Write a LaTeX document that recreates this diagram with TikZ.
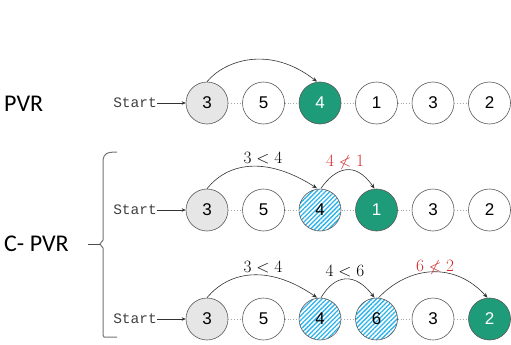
\documentclass[tikz,border=0pt]{standalone}
\usepackage{fontspec}
\usepackage{amssymb}
\usetikzlibrary{arrows.meta,patterns.meta}
\newfontfamily\numfont{Liberation Sans}
\newfontfamily\startfont{Liberation Mono}
\newfontfamily\labfont{Carlito}
\definecolor{pgreen}{HTML}{1E9B78}
\definecolor{pgray}{HTML}{E6E6E6}
\definecolor{phatch}{HTML}{2DB3EC}
\definecolor{pred}{HTML}{D42A2A}
\tikzset{
  cell/.style={circle,draw=black!65,line width=0.6pt,minimum size=42pt,inner sep=0pt,font=\numfont\fontsize{17}{17}\selectfont},
  firstcell/.style={cell,fill=pgray},
  hitcell/.style={cell,fill=pgreen,text=white},
  visited/.style={cell,preaction={fill=white},pattern={Lines[angle=45,distance=3.2pt,line width=1.3pt]},pattern color=phatch},
  link/.style={draw=black!35,dotted,line width=0.8pt},
  jump/.style={draw=black!80,line width=0.6pt,-{Stealth[length=5pt,width=4pt]}},
  startlbl/.style={font=\startfont\fontsize{14.5}{14.5}\selectfont,text=black!75,inner sep=0pt,anchor=east},
  cmp/.style={font=\fontsize{16}{16}\selectfont,inner sep=0pt},
  bigl/.style={font=\labfont\fontsize{24}{24}\selectfont,inner sep=0pt,anchor=west}
}
\begin{document}
\begin{tikzpicture}[x=1pt,y=-1pt]
\useasboundingbox (0,0) rectangle (511,345);
% row labels
\node[bigl] (pvr) at (4,104) {PVR};
\node[bigl] (cpvr) at (4,244) {C- PVR};
% bracket
\draw[black!55,line width=1pt] (117,152) .. controls (106,152) and (104,154) .. (103,160) -- (103,240) -- (100,244) -- (103,248) -- (103,335) -- (104,337) -- (117,337);
\coordinate (bt) at (100,244);
\coordinate (bl) at (88,244);
\draw[black!70,line width=1pt] (bl) -- (bt);
% Row 1
\foreach \i/\x in {1/207,2/263.5,3/320,4/376.5,5/433,6/489.5}{\coordinate (p\i) at (\x,103);}
\node[firstcell] (a1) at (p1) {3};
\node[cell] (a2) at (p2) {5};
\node[hitcell] (a3) at (p3) {4};
\node[cell] (a4) at (p4) {1};
\node[cell] (a5) at (p5) {3};
\node[cell] (a6) at (p6) {2};
\node[startlbl] (s1) at (157,103) {Start};
% Row 2
\foreach \i/\x in {1/207,2/263.5,3/320,4/376.5,5/433,6/489.5}{\coordinate (q\i) at (\x,210);}
\node[firstcell] (b1) at (q1) {3};
\node[cell] (b2) at (q2) {5};
\node[visited] (b3) at (q3) {4};
\node[hitcell] (b4) at (q4) {1};
\node[cell] (b5) at (q5) {3};
\node[cell] (b6) at (q6) {2};
\node[startlbl] (s2) at (157,210) {Start};
% Row 3
\foreach \i/\x in {1/207,2/263.5,3/320,4/376.5,5/433,6/489.5}{\coordinate (r\i) at (\x,319);}
\node[firstcell] (c1) at (r1) {3};
\node[cell] (c2) at (r2) {5};
\node[visited] (c3) at (r3) {4};
\node[visited] (c4) at (r4) {6};
\node[cell] (c5) at (r5) {3};
\node[hitcell] (c6) at (r6) {2};
\node[startlbl] (s3) at (157,319) {Start};
% dotted links
\foreach \r in {a,b,c}{
  \draw[link] (\r1) -- (\r2);
  \draw[link] (\r2) -- (\r3);
  \draw[link] (\r3) -- (\r4);
  \draw[link] (\r4) -- (\r5);
  \draw[link] (\r5) -- (\r6);
}
% start arrows
\draw[black!80,line width=0.7pt,-{Stealth[length=4pt,width=3.5pt]}] (s1) -- (a1);
\draw[black!80,line width=0.7pt,-{Stealth[length=4pt,width=3.5pt]}] (s2) -- (b1);
\draw[black!80,line width=0.7pt,-{Stealth[length=4pt,width=3.5pt]}] (s3) -- (c1);
% jumps row 1
\draw[jump] (a1.north) .. controls (225,60) and (270,45) .. ([xshift=-3pt]a3.north) ;
% jumps row 2
\draw[jump] (b1.north) .. controls (230,160) and (270,158) .. ([xshift=-3pt]b3.north);
\draw[jump] ([xshift=1pt]b3.north) .. controls (335,168) and (355,160) .. ([xshift=-2pt]b4.north);
\node[cmp] (l21) at (263,158) {$3<4$};
\node[cmp,text=pred] (l22) at (345,162) {$4\nless 1$};
% jumps row 3
\draw[jump] (c1.north) .. controls (230,270) and (270,265) .. ([xshift=-3pt]c3.north);
\draw[jump] ([xshift=1pt]c3.north) .. controls (335,274) and (355,272) .. ([xshift=-2pt]c4.north);
\draw[jump] ([xshift=2pt]c4.north) .. controls (410,265) and (455,262) .. ([xshift=-2pt]c6.north);
\node[cmp] (l31) at (263,267) {$3<4$};
\node[cmp] (l32) at (345,271) {$4<6$};
\node[cmp,text=pred] (l33) at (435,267) {$6\nless 2$};
\end{tikzpicture}
\end{document}
